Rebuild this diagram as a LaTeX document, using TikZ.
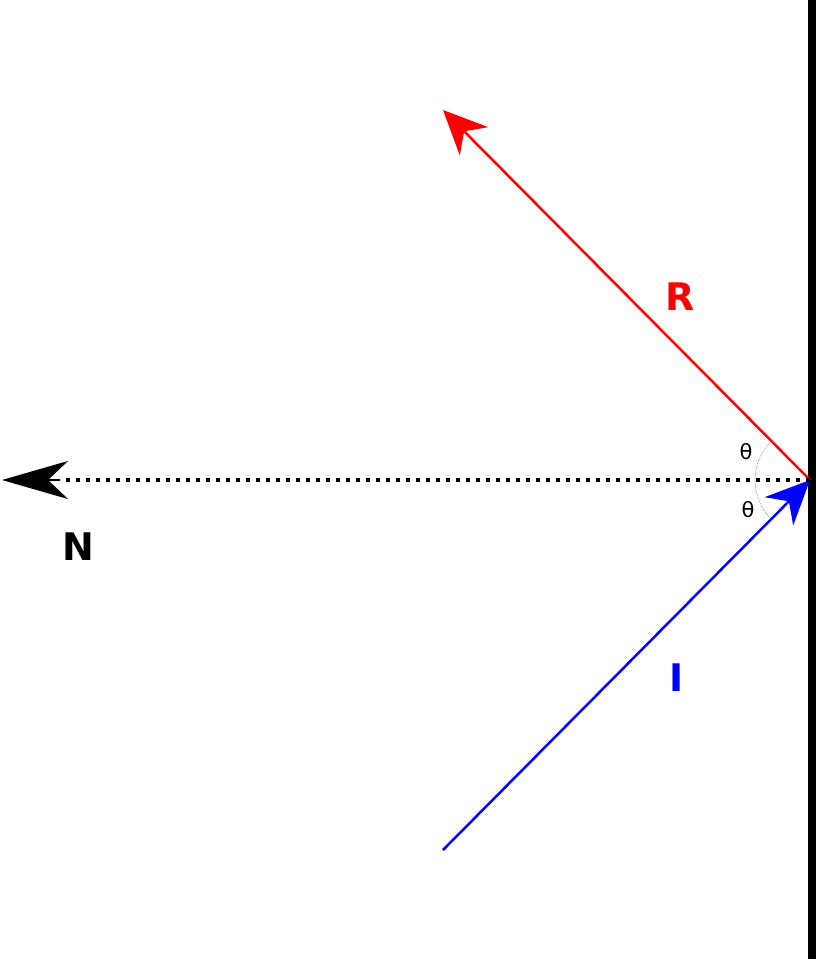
\documentclass[tikz,border=0pt]{standalone}
\usepackage{fontspec}
\setmainfont{DejaVu Sans}
\usetikzlibrary{arrows.meta}
\begin{document}
\begin{tikzpicture}[x=1pt,y=-1pt,
  lbl/.style={font=\bfseries\fontsize{38}{44}\selectfont},
  ang/.style={font=\fontsize{21}{25}\selectfont}]
\useasboundingbox (0,0) rectangle (816,959);
\draw[line width=8pt] (812,0) -- (812,959);
\coordinate (P) at (810,480);
\coordinate (Rend) at (443,110);
\coordinate (Istart) at (443,850);
\coordinate (Nend) at (2,480);
\draw[red, line width=2.5pt, -{Stealth[length=44pt,width=40pt,inset=14pt]}] (P) -- (Rend);
\draw[blue, line width=2.5pt, -{Stealth[length=44pt,width=40pt,inset=14pt]}] (Istart) -- (P);
\draw[line width=3.6pt, dash pattern=on 3.6pt off 6.4pt] (P) -- (60,480);
\draw[line width=2.5pt, -{Stealth[length=66pt,width=38pt,inset=20pt]}] (60,480) -- (Nend);
\draw[gray, line width=0.7pt, densely dotted] (P) ++(135:55) arc[start angle=135, end angle=225, radius=55];
\node[lbl, red] (R) at (680,297) {R};
\node[lbl, blue] (I) at (677,678) {I};
\node[lbl] (N) at (78,547) {N};
\node[ang] (t1) at (746,452) {θ};
\node[ang] (t2) at (748,510) {θ};
\end{tikzpicture}
\end{document}
